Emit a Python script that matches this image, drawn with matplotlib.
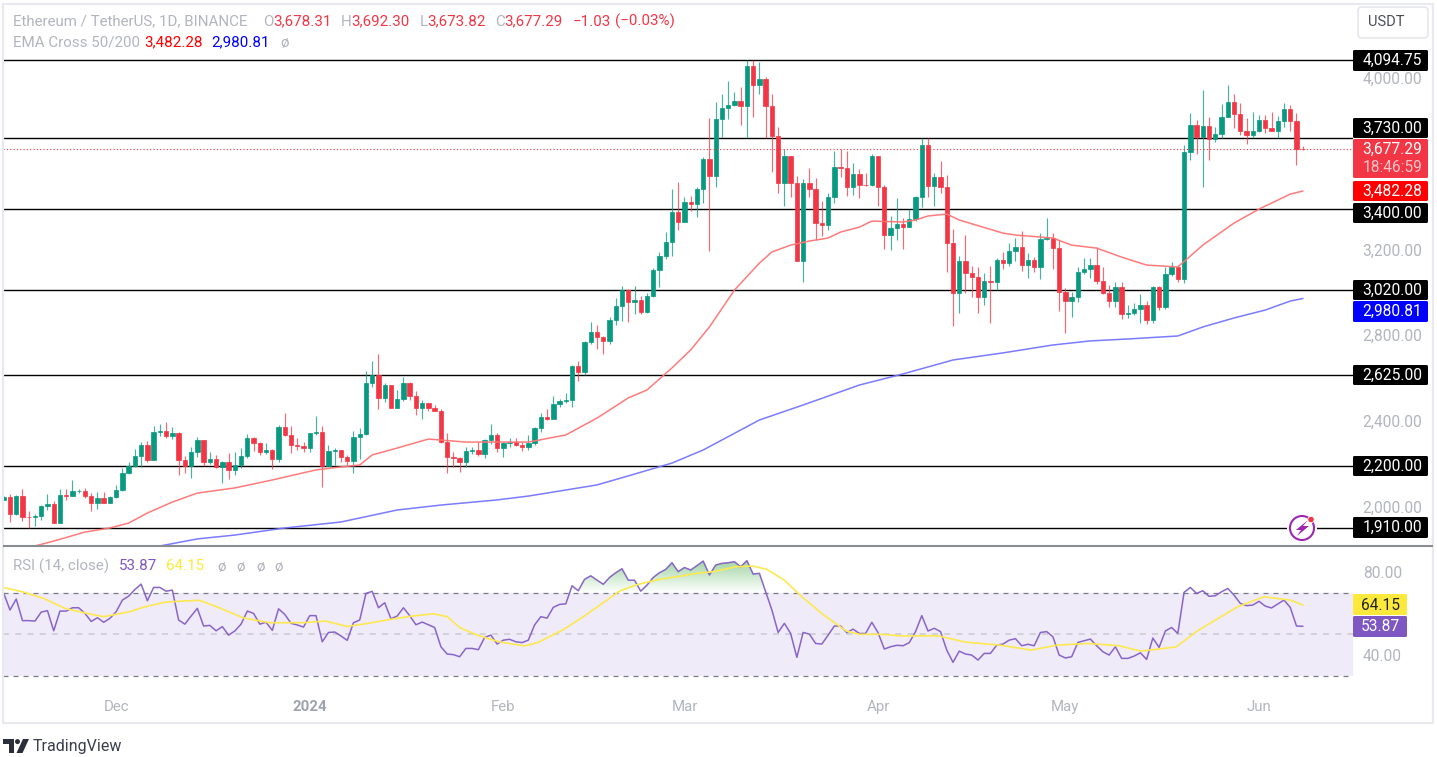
import numpy as np
import matplotlib
matplotlib.use("Agg")
import matplotlib.pyplot as plt
from matplotlib.patches import FancyBboxPatch, Rectangle, Polygon, Circle
from matplotlib.path import Path
from matplotlib.colors import LinearSegmentedColormap
from matplotlib.transforms import ScaledTranslation

plt.rcParams['font.family'] = ['Roboto', 'DejaVu Sans']

first_open = 2042
closes = [2055,1977,2059,1963,1962,1968,2013,2022,1933,2064,2061,2083,2084,2061,2027,2050,2027,2055,2089,2168,
          2199,2244,2296,2227,2358,2362,2339,2352,2226,2199,2263,2320,2219,2230,2193,2219,2179,2205,2244,2328,
          2306,2265,2272,2230,2380,2344,2297,2294,2282,2352,2358,2199,2268,2274,2240,2221,2333,2347,2588,2624,
          2518,2576,2472,2510,2588,2528,2472,2493,2472,2458,2312,2240,2235,2217,2271,2274,2254,2321,2343,2282,
          2305,2310,2298,2287,2305,2375,2427,2419,2489,2504,2507,2666,2636,2776,2823,2803,2783,2881,2946,3020,
          2966,2975,2919,2993,3112,3179,3245,3385,3340,3433,3420,3490,3632,3553,3818,3871,3885,3904,3877,4066,
          3977,4003,3877,3741,3520,3646,3521,3156,3518,3492,3335,3325,3456,3593,3590,3501,3560,3511,3509,3646,
          3501,3277,3310,3329,3316,3352,3456,3697,3506,3546,3501,3238,3005,3156,3102,3081,2987,3064,3058,3159,
          3147,3201,3220,3137,3159,3128,3259,3262,3218,3013,2971,2990,3103,3117,3136,3061,3005,2971,3036,2909,
          2913,2932,2951,2881,3033,2943,3094,3126,3070,3663,3790,3736,3786,3725,3747,3829,3896,3840,3764,3744,
          3762,3814,3778,3764,3809,3867,3811,3678.31,3677.29]
highs = [2060,2069,2064,2092,1991,1975,2017,2069,2036,2092,2090,2134,2092,2098,2075,2078,2078,2057,2111,2188,
         2219,2277,2311,2314,2386,2395,2404,2380,2356,2247,2286,2333,2322,2266,2252,2224,2258,2266,2282,2347,
         2333,2313,2305,2277,2390,2445,2386,2328,2313,2355,2431,2384,2296,2282,2274,2251,2363,2375,2644,2691,
         2720,2588,2577,2554,2616,2593,2548,2507,2495,2484,2464,2352,2266,2243,2287,2287,2310,2327,2394,2352,
         2312,2329,2330,2310,2343,2380,2445,2464,2526,2514,2542,2669,2688,2781,2871,2856,2806,2893,2982,3039,
         3024,3039,2993,3005,3122,3198,3291,3490,3523,3453,3461,3503,3640,3821,3899,3933,3994,3943,3966,4094,
         4094,4086,4013,3933,3780,3677,3647,3553,3537,3588,3542,3437,3472,3669,3677,3669,3612,3584,3565,3655,
         3647,3511,3367,3448,3358,3397,3461,3728,3728,3565,3622,3556,3304,3179,3277,3133,3126,3098,3133,3172,
         3196,3238,3262,3296,3192,3176,3285,3357,3285,3254,3028,3013,3126,3168,3172,3220,3130,3044,3060,3056,
         2951,2959,3000,2971,3039,3039,3126,3150,3137,3697,3845,3814,3954,3829,3783,3887,3977,3933,3891,3825,
         3853,3837,3837,3853,3834,3891,3882,3845,3692.30]
lows = [2040,1938,1972,1943,1912,1919,1947,1994,1933,1933,2041,2061,2072,2048,1989,1999,2025,2027,2048,2084,
        2160,2193,2193,2219,2226,2339,2328,2324,2159,2165,2145,2240,2199,2209,2191,2121,2140,2159,2188,2235,
        2268,2249,2255,2184,2219,2339,2258,2274,2263,2266,2344,2103,2199,2202,2220,2204,2168,2231,2344,2570,
        2464,2500,2470,2470,2504,2507,2436,2420,2458,2456,2308,2168,2196,2173,2196,2256,2246,2235,2302,2266,
        2243,2290,2294,2271,2274,2299,2360,2414,2419,2476,2495,2476,2594,2622,2769,2745,2720,2769,2859,2878,
        2873,2909,2909,2912,2986,3036,3164,3179,3301,3338,3389,3363,3425,3203,3500,3736,3818,3879,3792,3728,
        3829,3935,3728,3570,3472,3414,3456,3154,3060,3456,3254,3273,3301,3425,3546,3461,3464,3448,3506,3506,
        3414,3212,3207,3254,3212,3313,3344,3409,3453,3414,3475,3103,2853,2912,3005,2990,2915,2951,2868,3021,
        3119,3133,3158,3108,3075,3105,3070,3254,3117,2924,2822,2896,2963,3095,3075,3049,3002,2940,2943,2884,
        2889,2904,2868,2862,2868,2927,2934,3086,3060,3052,3627,3655,3500,3627,3713,3728,3826,3775,3744,3702,
        3728,3756,3755,3761,3728,3780,3764,3604,3673.82]

ema50_idx = [5,8,13,17,20,23,27,31,37,43,50,54,57,59,63,68,74,79,84,90,95,100,103,107,110,113,117,121,123,126,
             129,132,134,137,139,144,146,148,151,153,160,162,168,171,175,179,183,188,192,197,201,206,208]
ema50 = [1826,1849,1891,1910,1933,1980,2031,2073,2097,2134,2181,2195,2204,2251,2283,2325,2311,2311,2311,2344,
         2423,2517,2554,2657,2741,2848,3020,3146,3198,3230,3249,3263,3291,3314,3342,3338,3347,3366,3375,3347,
         3286,3277,3263,3230,3216,3174,3137,3128,3230,3333,3398,3468,3482.28]
ema200_idx = [25,31,37,45,54,63,70,79,84,87,95,100,107,112,121,128,137,144,152,160,168,174,180,188,192,197,202,206,208]
ema200 = [1826,1859,1877,1910,1938,1994,2017,2041,2059,2073,2111,2153,2213,2274,2414,2484,2577,2629,2694,2727,
          2764,2783,2792,2806,2848,2890,2927,2969,2980.81]

rsi = [69.7,61.7,67.0,56.6,56.6,56.4,60.7,61.4,51.7,61.2,61.2,62.8,62.8,60.1,56.2,58.0,55.8,57.7,60.9,66.5,
       68.4,71.6,74.2,66.2,72.6,72.6,70.8,71.3,56.9,54.9,58.8,62.5,54.0,54.3,51.7,53.7,49.6,51.6,54.9,61.2,
       60.1,54.9,55.8,51.9,62.3,59.6,55.3,54.5,53.5,59.0,59.0,46.4,50.9,51.1,49.2,47.1,55.6,56.9,69.7,70.7,
       62.8,65.2,57.5,58.8,62.8,59.0,54.6,55.9,54.6,53.3,44.0,40.5,40.2,39.2,43.2,43.2,42.6,48.5,49.6,45.3,
       47.2,47.6,46.4,46.0,47.2,54.5,58.5,57.8,63.0,64.4,64.7,73.4,71.0,76.5,78.2,76.1,74.1,77.4,79.7,81.6,
       76.1,76.1,70.8,73.7,77.4,79.7,81.3,84.5,80.2,82.2,81.0,83.1,85.3,78.6,83.4,84.2,84.5,85.0,82.6,85.5,
       79.0,79.4,70.5,61.7,50.9,55.3,50.4,38.9,50.9,50.1,45.6,45.3,49.6,54.0,54.0,50.8,52.5,50.4,50.4,55.8,
       50.8,42.9,44.0,44.7,44.5,46.0,51.3,59.0,51.6,52.9,51.3,42.4,36.5,41.9,40.5,40.0,37.6,40.8,40.8,44.8,
       45.3,47.2,47.9,44.5,45.2,44.5,50.9,51.3,48.8,40.0,38.6,39.2,46.1,46.9,47.7,44.5,41.6,40.0,44.0,38.4,
       38.4,39.5,41.1,37.9,48.2,43.7,51.6,53.3,50.4,70.2,72.6,69.7,71.0,68.3,68.6,70.5,72.1,68.9,64.9,63.8,
       64.1,65.9,63.6,62.7,64.6,66.5,63.0,54.0,53.87]
rsi_ma_idx = [0,3,6.4,9.8,13.3,16,20.2,22.3,25.8,28.6,31.3,34.1,38.3,42.5,48,51.5,55,58.4,61.9,65.4,68.8,71,73,
              75.8,79.3,83.4,85.5,89.7,93.2,96.6,98.7,101.5,105,108.3,110.9,113.7,117.2,120,122.2,125,127.8,
              131.3,134.9,137,140.5,144,149.6,153.9,159.5,164.5,168.7,173.6,178.6,182.1,187.7,191.3,197.6,
              201.8,206,208]
rsi_ma = [72.5,70.5,67.3,62.5,60.1,58.5,60.9,63,65.5,66,66.4,63.3,58,55.6,55.6,56.4,53.8,55.3,57.2,58.8,59.9,58.5,
          53.3,49.6,46.4,44.4,46,52.4,59.3,66.5,71,74,76.5,78,79.4,80.2,82.6,82.9,81.3,76.1,68.1,59.3,51.6,50,50,
          49.2,49.3,46.3,44.8,42.4,44.8,45.6,44.5,41.9,43.9,52,63.3,68.1,66.5,64.15]

levels = [4094.75, 3730.00, 3400.00, 3020.00, 2625.00, 2200.00, 1910.00]
level_boxes = [(50, 71), (118, 138), (203, 223), (280, 300), (365, 385), (456, 476), (517, 538)]
price_ticks = [4000, 3200, 2800, 2400, 2000]
rsi_ticks = [80, 40]
month_idx = [18, 49, 80, 109, 140, 170, 201]
month_labels = ['Dec', '2024', 'Feb', 'Mar', 'Apr', 'May', 'Jun']
last_price = 3677.29
ema50_last, ema200_last = 3482.28, 2980.81
rsi_last, rsi_ma_last = 53.87, 64.15

UP, DOWN = '#089981', '#F23645'
GREY = '#b2b5be'

W, H = 1437, 757
fig = plt.figure(figsize=(W / 100, H / 100), dpi=100, facecolor='white')


def axpx(l, t, r, b):
    return fig.add_axes([l / W, 1 - b / H, (r - l) / W, (b - t) / H])


XLIM = (-0.12, 216.05)
ax = axpx(3, 5, 1353, 545.5)
ax.set_xlim(*XLIM)
ax.set_ylim(1828.3, 4350.5)
rx = axpx(3, 548, 1353, 692)
rx.set_xlim(*XLIM)
rx.set_ylim(22.2, 91.6)

c = np.array(closes, float)
o = np.r_[first_open, c[:-1]]
o[-1] = 3678.31
hi = np.array(highs, float)
lo = np.array(lows, float)
x = np.arange(len(c))
cols = [UP if a >= b else DOWN for a, b in zip(c, o)]

ax.vlines(x, lo, hi, colors=cols, lw=0.85, alpha=0.75, zorder=3)
ax.bar(x, np.abs(c - o), bottom=np.minimum(c, o), width=0.7, color=cols, edgecolor=cols, lw=0.5, zorder=4)

for v in levels:
    ax.axhline(v, color='black', lw=1.0, zorder=2)
ax.axhline(last_price, color=DOWN, lw=0.8, ls=(0, (1, 2)), zorder=5)
ax.plot(ema50_idx, ema50, color='#ff7474', lw=1.1, zorder=5, alpha=0.95)
ax.plot(ema200_idx, ema200, color='#7474ff', lw=1.1, zorder=5, alpha=0.95)

for a in (ax, rx):
    for s in a.spines.values():
        s.set_visible(False)
    a.yaxis.tick_right()
    a.tick_params(axis='y', length=0, pad=7, labelsize=11.2, labelcolor=GREY)
ax.set_xticks([])
ax.set_yticks(price_ticks)
ax.set_yticklabels([f'{v:,.2f}' for v in price_ticks])
shift = ScaledTranslation(0, 1.5 / 72, fig.dpi_scale_trans)
for t in ax.get_yticklabels():
    t.set_transform(t.get_transform() + shift)

rx.set_yticks(rsi_ticks)
rx.set_yticklabels([f'{v:.2f}' for v in rsi_ticks])
rx.set_xticks(month_idx)
rx.set_xticklabels(month_labels)
rx.tick_params(axis='x', length=0, pad=6, labelsize=10.8, labelcolor=GREY)
for t in rx.get_xticklabels():
    if t.get_text() == '2024':
        t.set_fontweight('bold')
        t.set_color('#a0a3ad')

rx.axhspan(30, 70, color='#7E57C2', alpha=0.115, lw=0, zorder=1)
rx.axhline(70, color='#787B86', lw=0.9, ls=(0, (4, 4)), zorder=2)
rx.axhline(30, color='#787B86', lw=0.9, ls=(0, (4, 4)), zorder=2)
rx.axhline(50, color='#c9c9d0', lw=1.1, ls=(0, (4, 4)), zorder=2)

r = np.array(rsi)
poly = rx.fill_between(x, 70, r, where=r > 70, interpolate=True, facecolor='none', lw=0)
cmap = LinearSegmentedColormap.from_list('g', [(0.30, 0.69, 0.31, 0.0), (0.30, 0.69, 0.31, 0.55)])
im = rx.imshow(np.linspace(1, 0, 64)[:, None], extent=[XLIM[0], XLIM[1], 70, 86], aspect='auto', cmap=cmap,
               vmin=0, vmax=1, zorder=2)
im.set_clip_path(Path.make_compound_path(*poly.get_paths()), transform=rx.transData)
rx.set_xlim(*XLIM)
rx.set_ylim(22.2, 91.6)
rx.plot(x, r, color='#7E57C2', lw=1.1, zorder=4, alpha=0.9)
rx.plot(rsi_ma_idx, rsi_ma, color='#FDE94F', lw=1.2, zorder=5)

# overlay in picture coordinates for the chrome: borders, labels and logos
ov = fig.add_axes([0, 0, 1, 1], zorder=10)
ov.set_xlim(0, W)
ov.set_ylim(H, 0)
ov.axis('off')
ov.patch.set_alpha(0)

BORDER = '#e8eaf0'
ov.add_patch(Rectangle((2.5, 3.5), 1430.5, 719.5, fill=False, ec=BORDER, lw=1.6))
ov.plot([3, 1433], [546, 546], color='#8a8c92', lw=1.5, solid_capstyle='butt')


def box(l, t, r_, b, fc, ec='none', lw=0, rad=1.5):
    ov.add_patch(FancyBboxPatch((l + rad, t + rad), r_ - l - 2 * rad, b - t - 2 * rad,
                                boxstyle=f'round,pad={rad},rounding_size={rad}', fc=fc, ec=ec, lw=lw, zorder=3))


def label(xp, yp, s, color='white', size=11.2, ha='center', **kw):
    ov.text(xp, yp, s, color=color, fontsize=size, ha=ha, va='center', zorder=4, **kw)


for v, (t, b) in zip(levels, level_boxes):
    box(1353, t, 1428, b, 'black')
    label(1392.5, (t + b) / 2, f'{v:,.2f}')

box(1353, 139, 1428, 178, DOWN)
label(1392.5, 149.5, f'{last_price:,.2f}')
label(1392.5, 167, '18:46:59', color='#fbc4c9')
box(1353, 181, 1428, 201, '#ff0000')
label(1392.5, 191, f'{ema50_last:,.2f}')
box(1353, 301, 1428, 322, '#0000ff')
label(1392.5, 311.5, f'{ema200_last:,.2f}')
box(1353, 594, 1407, 615, '#FDE93B')
label(1380, 605, f'{rsi_ma_last:.2f}', color='#222222')
box(1353, 616, 1407, 637, '#7E57C2')
label(1380, 626.5, f'{rsi_last:.2f}')

box(1358, 7, 1428, 38, 'white', ec='#e0e3eb', lw=1.0, rad=4)
label(1386, 22.5, 'USDT', color='#4a4d57', size=10.5)

hdr = 10.9
for xp, s, col in [(13, 'Ethereum / TetherUS, 1D, BINANCE', GREY), (263, 'O', GREY), (273, '3,678.31', DOWN),
                   (341, 'H', GREY), (351, '3,692.30', DOWN), (420, 'L', GREY), (427, '3,673.82', DOWN),
                   (495, 'C', GREY), (504, '3,677.29', DOWN), (573, '−1.03', DOWN), (615, '(−0.03%)', DOWN)]:
    label(xp, 21.5, s, color=col, size=hdr, ha='left')
for xp, s, col in [(13, 'EMA Cross 50/200', GREY), (144, '3,482.28', '#ff0000'), (211, '2,980.81', '#0000ff'),
                   (280, 'ø', GREY)]:
    label(xp, 42.5, s, color=col, size=hdr, ha='left')
for xp, s, col in [(13, 'RSI (14, close)', GREY), (119, '53.87', '#7E57C2'), (166, '64.15', '#FDE93B'),
                   (217, 'ø', GREY), (236, 'ø', GREY), (256, 'ø', GREY), (274, 'ø', GREY)]:
    label(xp, 566.5, s, color=col, size=hdr, ha='left')

# lightning badge
ov.add_patch(Circle((1302, 528), 15, fc='white', ec='none', zorder=2))
ov.add_patch(Circle((1302, 528), 12, fc='none', ec='#9C27B0', lw=1.5, zorder=3))
ov.add_patch(Polygon([(1308, 520), (1296, 530), (1301, 530), (1297, 536), (1309, 526), (1303, 526)],
                     fc='#9C27B0', ec='none', zorder=4))
ov.add_patch(Circle((1311, 519.5), 3.2, fc='#F23645', ec='white', lw=0.6, zorder=5))

# TradingView mark
LOGO = '#2a2e39'
ov.add_patch(Polygon([(3, 739), (14, 739), (14, 753), (9, 753), (9, 744), (3, 744)], fc=LOGO, ec='none'))
ov.add_patch(Circle((17.5, 741.6), 2.5, fc=LOGO, ec='none'))
ov.add_patch(Polygon([(23, 739), (29, 739), (22.5, 753), (16.5, 753)], fc=LOGO, ec='none'))
label(33, 746, 'TradingView', color='#3a3e4a', size=11.5, ha='left')

fig.savefig('out.png', dpi=100, facecolor='white')
